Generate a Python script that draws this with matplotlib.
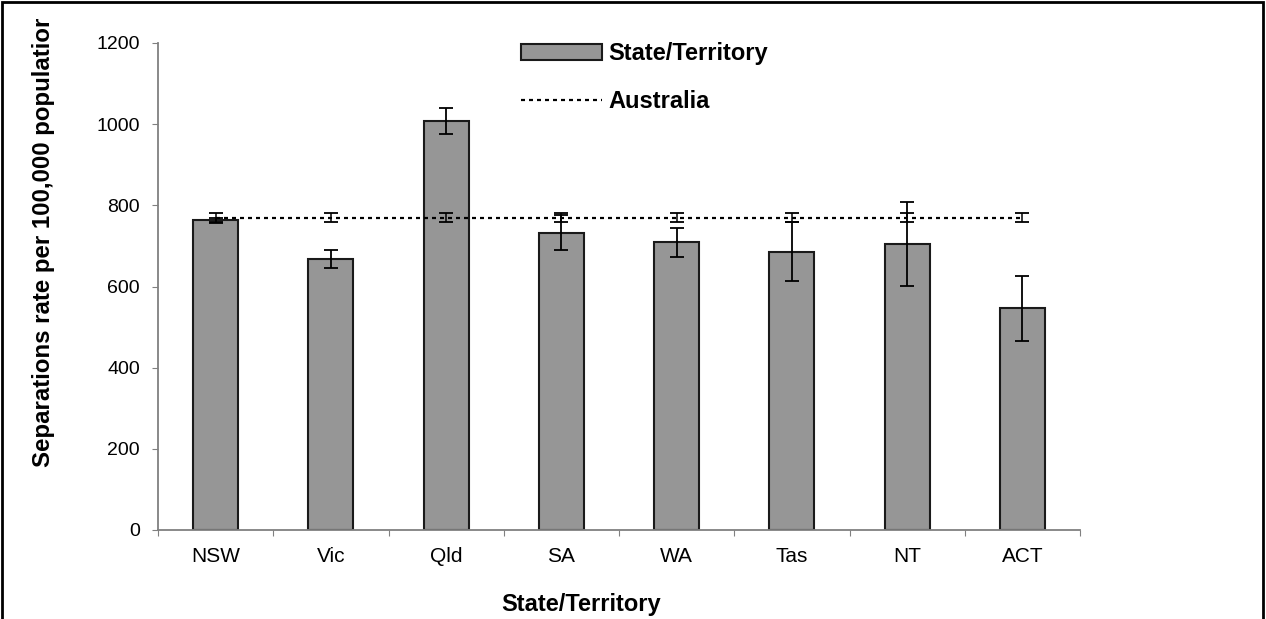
import matplotlib
matplotlib.use('Agg')
import matplotlib.pyplot as plt
import numpy as np

states = ["NSW", "Vic", "Qld", "SA", "WA", "Tas", "NT", "ACT"]
rates = [763, 668, 1008, 733, 709, 686, 705, 546]
errs = [7, 22, 31, 44, 36, 73, 104, 81]
aus_rate = 770
aus_err = 12

plt.rcParams['font.family'] = ['Liberation Sans', 'DejaVu Sans']

fig = plt.figure(figsize=(12.66, 6.19), dpi=100)
ax = fig.add_axes([158 / 1266, 1 - 530 / 619, (1080 - 158) / 1266, (530 - 43) / 619])

x = np.arange(len(states))
bars = ax.bar(x, rates, width=0.39, color="#969696", edgecolor="#1a1a1a", linewidth=1.5,
              label="State/Territory", zorder=2)
ax.errorbar(x, rates, yerr=errs, fmt="none", ecolor="black", elinewidth=1.3,
            capsize=5, capthick=1.3, zorder=3)

aus = [aus_rate] * len(states)
line, = ax.plot(x, aus, color="black", linestyle=(0, (1.8, 1.8)), linewidth=1.6,
                label="Australia", zorder=4)
ax.errorbar(x, aus, yerr=aus_err, fmt="none", ecolor="black", elinewidth=1.1,
            capsize=5, capthick=1.3, zorder=4)

ax.set_xlim(-0.5, len(states) - 0.5)
ax.set_ylim(0, 1200)
ax.set_yticks(range(0, 1201, 200))
ax.set_xticks(np.arange(-0.5, len(states), 1.0), minor=False)
ax.set_xticklabels([])
ax.set_xticks(x, minor=True)
ax.set_xticklabels(states, minor=True)
ax.tick_params(axis="x", which="minor", length=0, pad=12, labelsize=15)
ax.tick_params(axis="x", which="major", length=4.5, color="#808080", direction="out")
ax.tick_params(axis="y", length=4.5, color="#808080", labelsize=14, pad=8.5)

for s in ["top", "right"]:
    ax.spines[s].set_visible(False)
for s in ["left", "bottom"]:
    ax.spines[s].set_color("#808080")
    ax.spines[s].set_linewidth(1.3)

leg = ax.legend([bars, line], ["State/Territory", "Australia"],
                loc="upper left", bbox_to_anchor=(0.371, 1.045), frameon=False,
                handlelength=3.4, handleheight=0.65, labelspacing=1.05,
                prop={"weight": "bold", "size": 17}, handletextpad=0.3)

fig.text(44 / 1266, 1 - 242 / 619, "Separations rate per 100,000 populatior",
         rotation=90, ha="center", va="center", fontsize=17.3, fontweight="bold")
fig.text(581 / 1266, 1 - 604 / 619, "State/Territory", ha="center", va="center",
         fontsize=17, fontweight="bold")

border = plt.Rectangle((2 / 1266, -0.05), 1261 / 1266, 1.05 - 2 / 619,
                       transform=fig.transFigure, fill=False, edgecolor="black",
                       linewidth=2)
fig.patches.append(border)

fig.savefig("out.png", dpi=100)
